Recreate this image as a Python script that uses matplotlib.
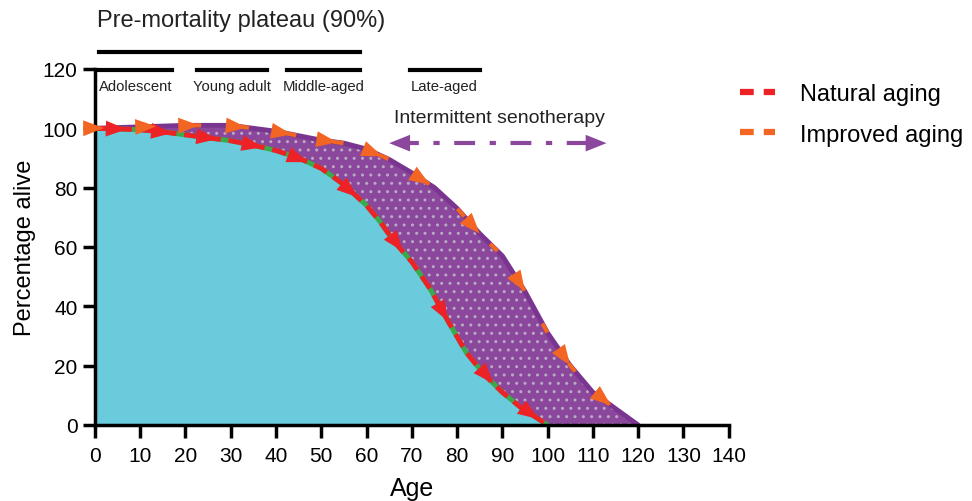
"""Survival curves: natural vs improved aging with intermittent senotherapy."""

import matplotlib
matplotlib.use("Agg", force=True)
import matplotlib.pyplot as plt
import numpy as np
from matplotlib.lines import Line2D

plt.rcParams["font.family"] = ["Liberation Sans", "DejaVu Sans"]
plt.rcParams["hatch.linewidth"] = 1.0

# --- data ---
age_natural = [0, 5, 10, 15, 20, 25, 30, 35, 40, 45, 50, 55, 60, 63, 66, 70,
               74, 78, 82, 86, 90, 94, 97, 100]
pct_natural = [100, 99.8, 99.5, 98.8, 97.8, 96.8, 95.8, 94.3, 92.5, 90, 86.5,
               81, 74, 68.5, 62, 55, 46, 35, 24.5, 17, 11, 6, 3, 0]

age_improved = [0, 10, 20, 30, 40, 45, 50, 55, 60, 65, 70, 75, 80, 85, 90,
                95, 100, 105, 110, 115, 120]
pct_improved = [100, 100.5, 101, 101, 99, 97.5, 96, 95, 93, 89.5, 85, 80, 73,
                64.5, 57, 45, 31, 20, 11, 5.5, 0]

arrow_ages_natural = [7, 17, 27, 37, 47, 58, 68, 78, 88, 98]
arrow_ages_improved = [2, 13.5, 23, 33.5, 43.5, 53.5, 63.5, 74, 85, 95, 105, 114]

stages = ["Adolescent", "Young adult", "Middle-aged", "Late-aged"]
stage_spans = [(1, 17), (22.5, 38), (42.5, 58.5), (69.5, 85)]
plateau_span = (1, 58.5)

CYAN = "#69CBDB"
PURPLE = "#8A479C"
PURPLE_EDGE = "#7A3590"
GREEN = "#3BAA4A"
RED = "#EC2227"
ORANGE = "#F26522"

fig = plt.figure(figsize=(9.72, 5.02), dpi=100)
ax = fig.add_axes([0.0977, 0.1514, 0.652, 0.7092])
ax.set_xlim(0, 140)
ax.set_ylim(0, 120)

# common grid for the fills
grid = np.union1d(age_natural, age_improved)
nat = np.interp(grid, age_natural, pct_natural, right=0)
imp = np.interp(grid, age_improved, pct_improved)

ax.fill_between(age_natural, 0, pct_natural, color=CYAN, lw=0, zorder=1)
ax.fill_between(grid, nat, imp, color=PURPLE, lw=0, zorder=1)
ax.fill_between(grid, nat, imp, facecolor="none", edgecolor="#B9A9C4",
                hatch="..", lw=0, zorder=1.5)

ax.plot(age_improved, pct_improved, color=PURPLE_EDGE, lw=3.5, zorder=2,
        solid_capstyle="round")
ax.plot(age_improved, pct_improved, color=ORANGE, lw=3, zorder=2.2,
        dashes=(2.5, 9))
ax.plot(age_natural, pct_natural, color=GREEN, lw=3.5, zorder=2)
ax.plot(age_natural, pct_natural, color=RED, lw=3.5, zorder=2.2,
        dashes=(3, 1.6))


def arrowheads(ages, xs, ys, color):
    for a in ages:
        tip = (a, np.interp(a, xs, ys))
        tail = (a - 5, np.interp(a - 5, xs, ys))
        ax.annotate("", xy=tip, xytext=tail, zorder=3,
                    arrowprops=dict(arrowstyle="-|>,head_length=1.0,head_width=0.38",
                                    mutation_scale=15, color=color, lw=0,
                                    shrinkA=0, shrinkB=0))


arrowheads(arrow_ages_natural, age_natural, pct_natural, RED)
arrowheads(arrow_ages_improved, age_improved, pct_improved, ORANGE)

# senotherapy arrow
ax.plot([67, 111], [95, 95], color=PURPLE, lw=3, dashes=(5, 3.5, 1.5, 3.5),
        zorder=3)
for start, end in [(71, 65), (107, 113)]:
    ax.annotate("", xy=(end, 95), xytext=(start, 95), zorder=3,
                arrowprops=dict(arrowstyle="-|>,head_length=1.0,head_width=0.4",
                                mutation_scale=15, color=PURPLE, lw=0,
                                shrinkA=0, shrinkB=0))
ax.text(89.4, 103.5, "Intermittent senotherapy", ha="center", va="center",
        fontsize=14, color="#222222")

# life stage bars above the axes
ax.plot(plateau_span, [125.8, 125.8], color="black", lw=3, clip_on=False)
for name, (x0, x1) in zip(stages, stage_spans):
    ax.plot([x0, x1], [119.8, 119.8], color="black", lw=3, clip_on=False)
    ax.text((x0 + x1) / 2, 114.3, name, ha="center", va="center",
            fontsize=10.7, color="#222222")
ax.text(0.4, 136.5, "Pre-mortality plateau (90%)", ha="left", va="center",
        fontsize=17, color="#222222", clip_on=False)

# axes styling
for side in ["top", "right"]:
    ax.spines[side].set_visible(False)
for side in ["left", "bottom"]:
    ax.spines[side].set_linewidth(2.5)
ax.set_xticks(range(0, 141, 10))
ax.set_yticks(range(0, 121, 20))
ax.tick_params(width=2.5, length=9, labelsize=15, direction="out")
ax.tick_params(axis="x", pad=6)
ax.set_xlabel("Age", fontsize=18, labelpad=8)
ax.set_ylabel("Percentage alive", fontsize=17, labelpad=5)

handles = [Line2D([0], [0], color=RED, lw=4.5, dashes=(2.2, 1.6)),
           Line2D([0], [0], color=ORANGE, lw=4.5, dashes=(2.2, 1.6))]
fig.legend(handles, ["Natural aging", "Improved aging"], loc="upper left",
           bbox_to_anchor=(0.761, 0.833), frameon=False, fontsize=17,
           borderpad=0, borderaxespad=0, handlelength=1.5,
           handletextpad=1.05, labelspacing=0.8)

fig.savefig("out.png", dpi=100)
